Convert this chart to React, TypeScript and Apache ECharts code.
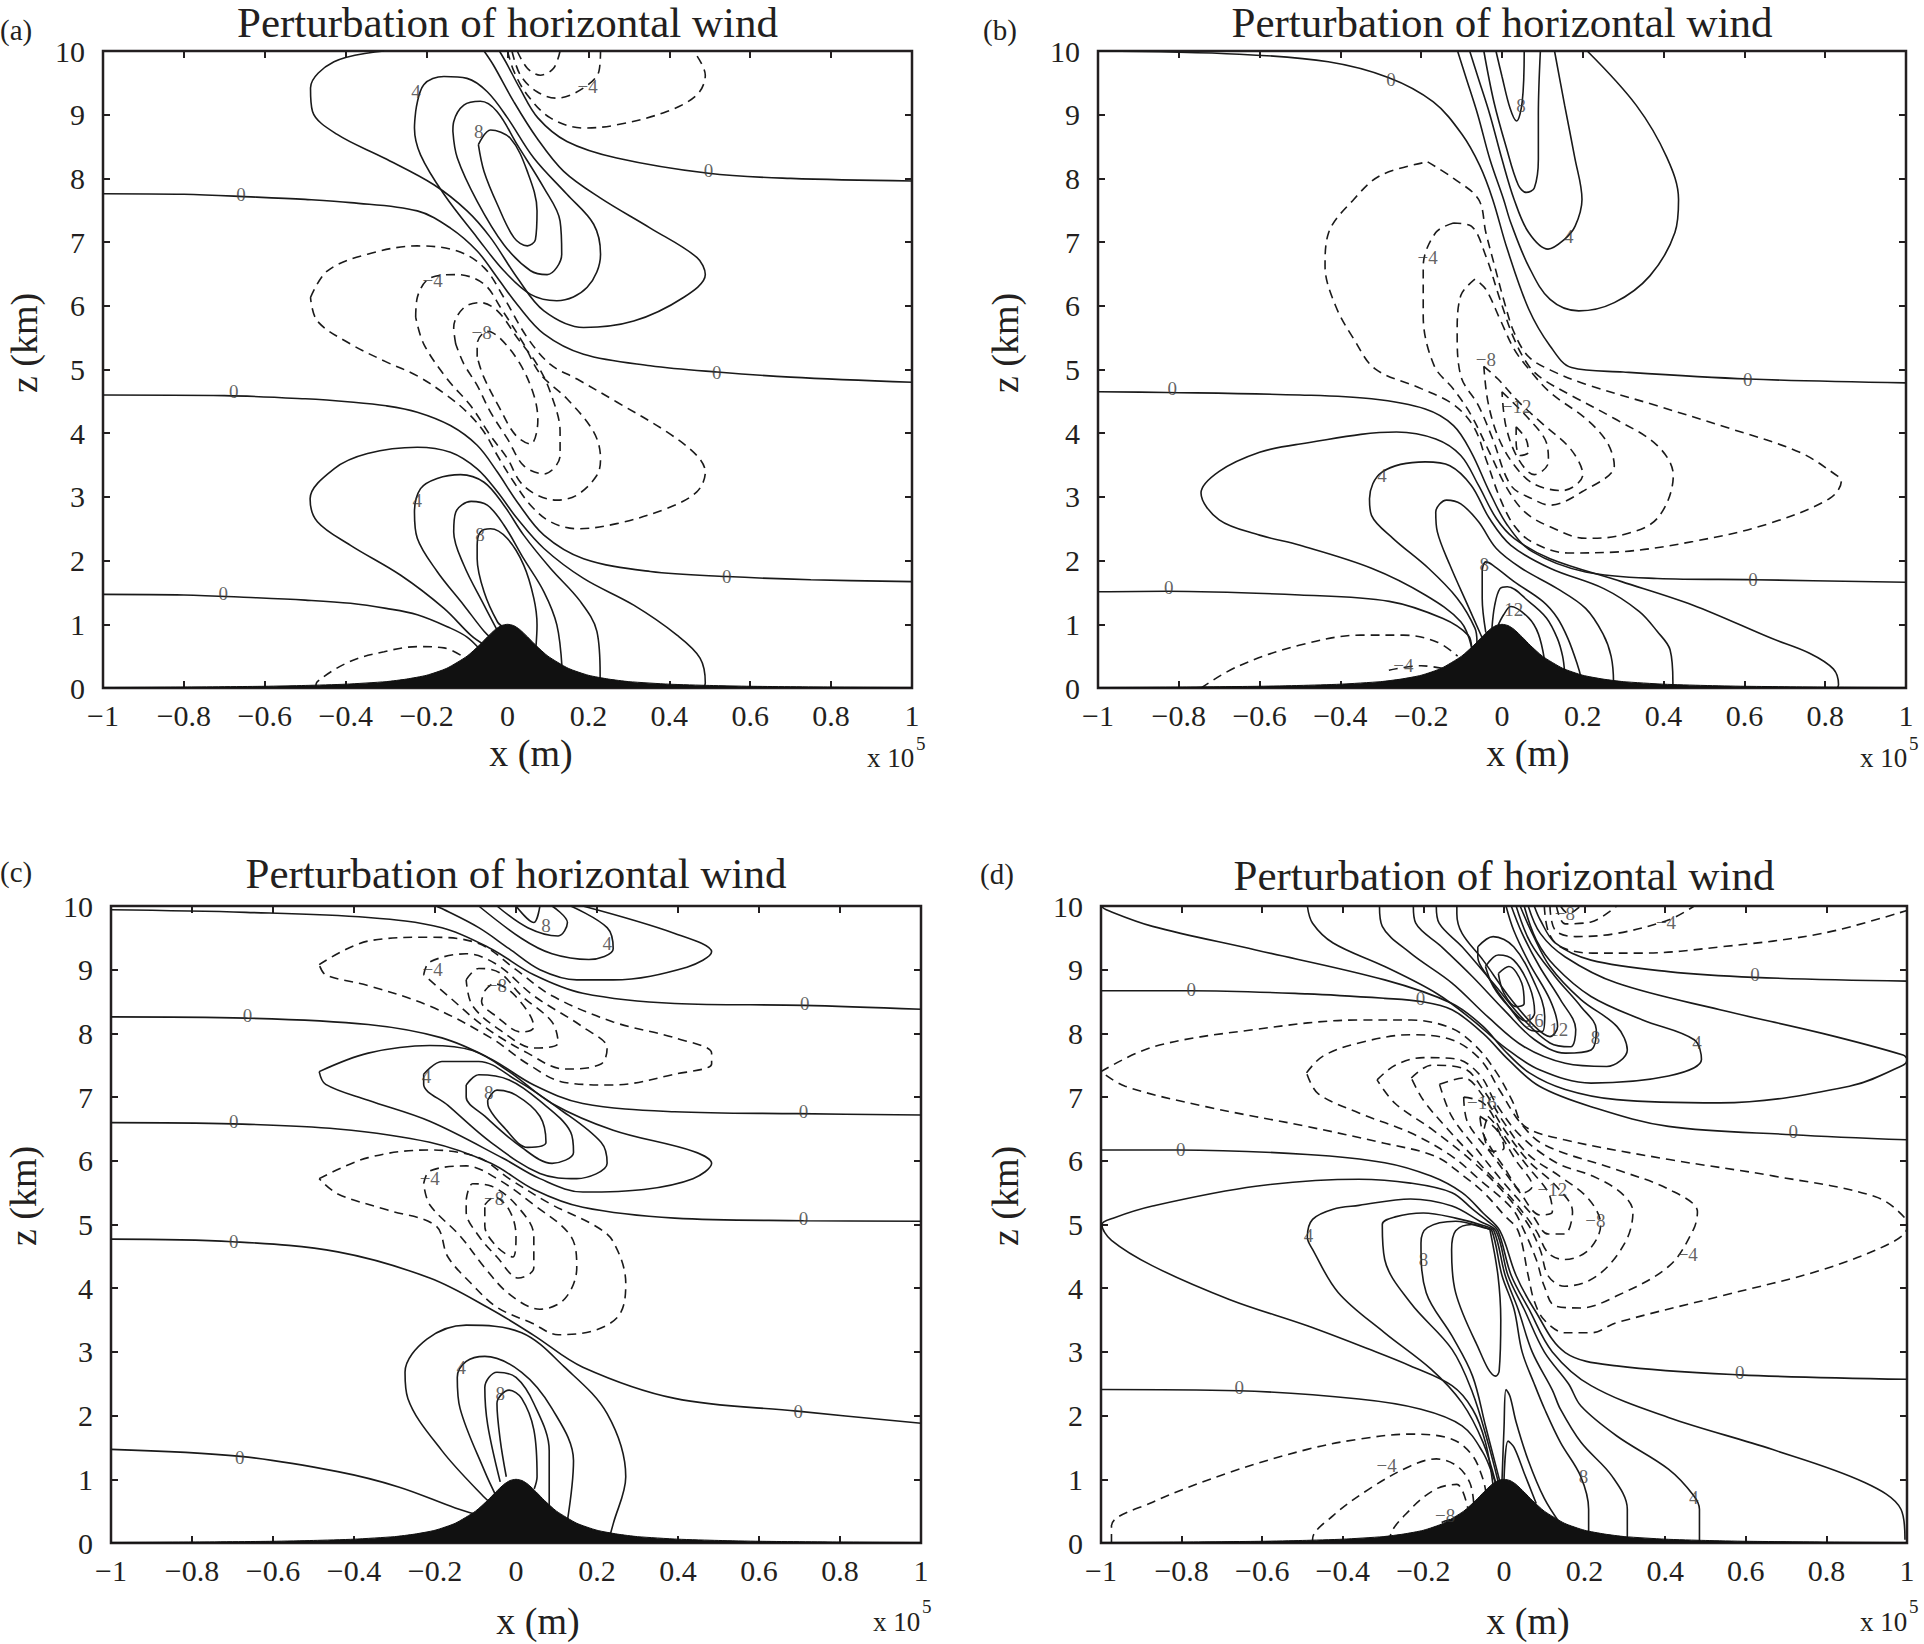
import React, { useEffect, useRef } from 'react';
import * as echarts from 'echarts';

type Line = number[][];
type Lbl = [number, number, string];

const xTickLabels = ['−1', '−0.8', '−0.6', '−0.4', '−0.2', '0', '0.2', '0.4', '0.6', '0.8', '1'];
const yTickLabels = ['0', '1', '2', '3', '4', '5', '6', '7', '8', '9', '10'];

// terrain profile (x in 1e5 m, z in km)
const mountainX = [-1, -0.8, -0.6, -0.5, -0.4, -0.3, -0.25, -0.2, -0.15, -0.1, -0.07, -0.05, -0.03, -0.015, 0, 0.015, 0.03, 0.05, 0.07, 0.1, 0.15, 0.2, 0.25, 0.3, 0.4, 0.5, 0.6, 0.8, 1];
const mountainZ = [0.01, 0.015, 0.027, 0.04, 0.06, 0.1, 0.14, 0.2, 0.31, 0.5, 0.67, 0.8, 0.92, 0.98, 1.0, 0.98, 0.92, 0.8, 0.67, 0.5, 0.31, 0.2, 0.14, 0.1, 0.06, 0.04, 0.027, 0.015, 0.01];

// ---- panel (a)
const aZero: Line[] = [
  [[-1, 1.47], [-0.8, 1.46], [-0.635, 1.42], [-0.5, 1.38], [-0.388, 1.33], [-0.3, 1.25], [-0.223, 1.15], [-0.141, 0.94], [-0.1, 0.8], [-0.07, 0.62]],
  [[-1, 4.6], [-0.7, 4.59], [-0.5, 4.54], [-0.388, 4.49], [-0.3, 4.43], [-0.223, 4.33], [-0.141, 4.12], [-0.075, 3.81], [-0.025, 3.39], [0.024, 2.92], [0.09, 2.4], [0.188, 2.03], [0.353, 1.83], [0.542, 1.75], [0.75, 1.7], [1, 1.67]],
  [[-1, 7.76], [-0.8, 7.75], [-0.635, 7.71], [-0.5, 7.67], [-0.388, 7.62], [-0.223, 7.49], [-0.141, 7.22], [-0.075, 6.86], [-0.025, 6.44], [0.024, 6.02], [0.09, 5.56], [0.188, 5.24], [0.353, 5.06], [0.518, 4.96], [0.7, 4.88], [1, 4.8]],
  [[-0.02, 10], [0.0, 9.78], [0.03, 9.42], [0.075, 8.95], [0.147, 8.58], [0.27, 8.32], [0.497, 8.08], [0.7, 8.0], [1, 7.96]],
];
const aPos: Line[] = [
  [[-0.058, 0.68], [-0.091, 0.83], [-0.157, 1.25], [-0.264, 1.77], [-0.388, 2.24], [-0.47, 2.61], [-0.488, 2.97], [-0.429, 3.44], [-0.346, 3.68], [-0.223, 3.78], [-0.141, 3.7], [-0.075, 3.44], [-0.025, 3.08], [0.024, 2.66], [0.09, 2.19], [0.188, 1.72], [0.312, 1.3], [0.419, 0.83], [0.476, 0.47], [0.489, 0.08], [0.485, 0]],
  [[-0.04, 0.78], [-0.058, 0.89], [-0.108, 1.3], [-0.174, 1.83], [-0.223, 2.35], [-0.23, 2.76], [-0.215, 3.13], [-0.174, 3.29], [-0.116, 3.35], [-0.058, 3.23], [-0.009, 2.87], [0.04, 2.4], [0.106, 1.88], [0.18, 1.36], [0.221, 0.89], [0.229, 0.21], [0.228, 0]],
  [[-0.025, 0.9], [-0.058, 1.3], [-0.108, 1.93], [-0.133, 2.45], [-0.128, 2.76], [-0.09, 2.93], [-0.05, 2.87], [-0.009, 2.56], [0.04, 2.03], [0.09, 1.51], [0.122, 0.99], [0.135, 0.3]],
  [[-0.009, 0.95], [-0.025, 1.04], [-0.058, 1.51], [-0.075, 2.03], [-0.075, 2.24], [-0.067, 2.45], [-0.042, 2.5], [-0.001, 2.35], [0.04, 1.93], [0.065, 1.41], [0.073, 0.99], [0.07, 0.62]],
  [[-0.305, 10], [-0.429, 9.83], [-0.487, 9.42], [-0.482, 9.05], [-0.421, 8.69], [-0.305, 8.32], [-0.182, 7.9], [-0.1, 7.49], [-0.042, 7.07], [0.024, 6.44], [0.09, 5.92], [0.188, 5.66], [0.312, 5.76], [0.435, 6.13], [0.489, 6.49], [0.468, 6.76], [0.353, 7.22], [0.23, 7.69], [0.139, 8.11], [0.073, 8.63], [0.015, 9.21], [-0.035, 9.78], [-0.058, 10]],
  [[-0.227, 9.05], [-0.207, 9.47], [-0.157, 9.6], [-0.1, 9.57], [-0.05, 9.36], [0.0, 8.95], [0.065, 8.32], [0.147, 7.75], [0.213, 7.28], [0.23, 6.81], [0.197, 6.29], [0.122, 6.08], [0.057, 6.18], [-0.009, 6.55], [-0.075, 7.07], [-0.157, 7.75], [-0.215, 8.37], [-0.23, 8.79], [-0.227, 9.05]],
  [[-0.135, 8.74], [-0.133, 8.89], [-0.108, 9.15], [-0.067, 9.21], [-0.026, 9.05], [0.024, 8.53], [0.09, 7.85], [0.13, 7.33], [0.134, 6.81], [0.098, 6.49], [0.057, 6.55], [-0.009, 6.96], [-0.075, 7.64], [-0.124, 8.32], [-0.135, 8.74]],
  [[-0.072, 8.53], [-0.042, 8.76], [0.007, 8.63], [0.049, 8.11], [0.073, 7.49], [0.069, 7.04], [0.049, 6.94], [0.016, 7.07], [-0.025, 7.59], [-0.058, 8.11], [-0.072, 8.53]],
];
const aNeg: Line[] = [
  [[-0.474, 0], [-0.47, 0.1], [-0.388, 0.42], [-0.305, 0.57], [-0.223, 0.65], [-0.157, 0.63], [-0.1, 0.45]],
  [[0.0, 10], [0.016, 9.68], [0.049, 9.31], [0.106, 8.95], [0.188, 8.79], [0.27, 8.84], [0.394, 9.05], [0.468, 9.31], [0.489, 9.62], [0.46, 10]],
  [[0.011, 10], [0.032, 9.62], [0.073, 9.36], [0.122, 9.26], [0.188, 9.42], [0.226, 9.68], [0.23, 10]],
  [[0.024, 10], [0.049, 9.73], [0.081, 9.62], [0.114, 9.73], [0.13, 10]],
  [[-0.487, 6.13], [-0.445, 6.55], [-0.346, 6.81], [-0.223, 6.94], [-0.124, 6.86], [-0.058, 6.6], [-0.009, 6.13], [0.049, 5.5], [0.106, 5.08], [0.172, 4.85], [0.27, 4.49], [0.394, 4.02], [0.468, 3.65], [0.489, 3.39], [0.468, 3.08], [0.394, 2.82], [0.27, 2.58], [0.172, 2.5], [0.106, 2.61], [0.057, 2.87], [0.016, 3.23], [-0.025, 3.65], [-0.058, 4.02], [-0.1, 4.33], [-0.149, 4.59], [-0.223, 4.9], [-0.3, 5.12], [-0.388, 5.4], [-0.47, 5.76], [-0.487, 6.13]],
  [[-0.227, 5.82], [-0.223, 6.13], [-0.19, 6.44], [-0.124, 6.49], [-0.058, 6.34], [-0.017, 5.97], [0.04, 5.4], [0.081, 4.93], [0.147, 4.54], [0.213, 4.02], [0.23, 3.6], [0.221, 3.34], [0.172, 3.03], [0.122, 2.95], [0.073, 3.03], [0.032, 3.23], [0.0, 3.6], [-0.042, 3.96], [-0.091, 4.43], [-0.149, 4.85], [-0.207, 5.4], [-0.227, 5.82]],
  [[-0.128, 5.4], [-0.133, 5.66], [-0.108, 5.97], [-0.067, 6.05], [-0.025, 5.92], [0.024, 5.5], [0.073, 5.08], [0.106, 4.64], [0.13, 4.02], [0.13, 3.65], [0.09, 3.36], [0.04, 3.49], [0.0, 3.91], [-0.042, 4.33], [-0.075, 4.75], [-0.108, 5.09], [-0.128, 5.4]],
  [[-0.075, 5.2], [-0.075, 5.4], [-0.05, 5.6], [-0.02, 5.5], [0.03, 5.1], [0.065, 4.6], [0.075, 4.2], [0.057, 3.83], [0.02, 3.97], [-0.02, 4.4], [-0.06, 4.9], [-0.075, 5.2]],
];
const aLabels: Lbl[] = [
  [-0.226, 9.36, '4'], [0.198, 9.44, '−4'], [-0.071, 8.74, '8'], [0.497, 8.12, '0'], [-0.659, 7.74, '0'],
  [-0.185, 6.4, '−4'], [-0.064, 5.58, '−8'], [0.517, 4.96, '0'], [-0.677, 4.65, '0'], [-0.223, 2.94, '4'],
  [-0.068, 2.41, '8'], [0.542, 1.75, '0'], [-0.703, 1.48, '0'],
];

// ---- panel (b)
const bZero: Line[] = [
  [[-1, 10], [-0.65, 9.95], [-0.43, 9.83], [-0.28, 9.58], [-0.17, 9.2], [-0.1, 8.7], [-0.055, 8.2], [-0.023, 7.67], [0.013, 6.89], [0.066, 5.95], [0.119, 5.37], [0.172, 5.03], [0.3, 4.96], [0.61, 4.85], [1, 4.79]],
  [[-1, 4.65], [-0.83, 4.64], [-0.5, 4.6], [-0.323, 4.54], [-0.19, 4.38], [-0.12, 4.12], [-0.076, 3.7], [-0.031, 3.08], [0.013, 2.56], [0.075, 2.14], [0.207, 1.82], [0.384, 1.72], [0.623, 1.7], [1, 1.66]],
  [[-1, 1.51], [-0.83, 1.52], [-0.5, 1.46], [-0.279, 1.36], [-0.146, 1.09], [-0.084, 0.83], [-0.075, 0.62]],
];
const bPos: Line[] = [
  [[-0.075, 0.64], [-0.102, 1.04], [-0.19, 1.46], [-0.323, 1.88], [-0.5, 2.24], [-0.6, 2.4], [-0.7, 2.64], [-0.745, 3.06], [-0.7, 3.4], [-0.6, 3.7], [-0.5, 3.83], [-0.261, 4.02], [-0.164, 3.91], [-0.102, 3.65], [-0.058, 3.18], [-0.014, 2.66], [0.03, 2.35], [0.119, 2.03], [0.296, 1.67], [0.473, 1.3], [0.667, 0.78], [0.76, 0.55], [0.82, 0.3], [0.833, 0.05], [0.83, 0]],
  [[-0.062, 0.72], [-0.067, 0.94], [-0.111, 1.41], [-0.182, 1.88], [-0.27, 2.35], [-0.323, 2.71], [-0.328, 2.97], [-0.297, 3.39], [-0.19, 3.55], [-0.129, 3.49], [-0.076, 3.18], [-0.031, 2.66], [0.022, 2.24], [0.119, 1.88], [0.252, 1.56], [0.34, 1.2], [0.384, 0.89], [0.416, 0.6], [0.423, 0.09], [0.423, 0]],
  [[-0.05, 0.8], [-0.085, 1.3], [-0.129, 1.93], [-0.16, 2.45], [-0.164, 2.76], [-0.137, 2.95], [-0.102, 2.89], [-0.058, 2.61], [-0.014, 2.19], [0.048, 1.88], [0.137, 1.56], [0.207, 1.25], [0.25, 0.85], [0.27, 0.5], [0.276, 0.09], [0.276, 0]],
  [[-0.04, 0.87], [-0.049, 1.41], [-0.049, 1.83], [-0.04, 1.98], [-0.023, 1.93], [0.03, 1.67], [0.101, 1.36], [0.137, 1.1], [0.163, 0.78], [0.185, 0.4], [0.196, 0.15], [0.198, 0]],
  [[-0.025, 0.93], [-0.018, 1.3], [-0.005, 1.56], [0.013, 1.59], [0.066, 1.36], [0.11, 1.1], [0.137, 0.78], [0.15, 0.5], [0.155, 0.25]],
  [[-0.01, 0.98], [0.004, 1.15], [0.022, 1.28], [0.066, 1.1], [0.09, 0.85], [0.105, 0.45]],
  [[-0.11, 10], [-0.09, 9.6], [-0.06, 9.0], [-0.03, 8.3], [0.004, 7.67], [0.022, 7.3], [0.066, 6.62], [0.119, 6.1], [0.19, 5.92], [0.278, 6.05], [0.366, 6.47], [0.428, 7.15], [0.437, 7.67], [0.408, 8.33], [0.332, 9.15], [0.211, 10]],
  [[-0.08, 10], [-0.06, 9.6], [-0.03, 9.0], [0.0, 8.3], [0.03, 7.67], [0.066, 7.15], [0.114, 6.89], [0.154, 7.04], [0.181, 7.25], [0.198, 7.67], [0.18, 8.33], [0.155, 9.15], [0.13, 10]],
  [[-0.045, 10], [-0.02, 9.2], [0.01, 8.5], [0.04, 7.9], [0.06, 7.78], [0.08, 7.85], [0.09, 8.3], [0.09, 9.0], [0.095, 10]],
  [[-0.015, 10], [0.0, 9.6], [0.02, 9.1], [0.036, 8.9], [0.05, 9.2], [0.055, 10]],
];
const bNeg: Line[] = [
  [[-0.745, 0], [-0.654, 0.34], [-0.502, 0.67], [-0.35, 0.83], [-0.244, 0.83], [-0.16, 0.72], [-0.11, 0.5]],
  [[-0.28, 0.28], [-0.2, 0.35], [-0.14, 0.3]],
  [[-0.184, 8.26], [-0.12, 8.0], [-0.058, 7.67], [-0.04, 7.15], [-0.018, 6.62], [0.004, 6.1], [0.03, 5.58], [0.066, 5.2], [0.12, 4.99], [0.207, 4.77], [0.384, 4.43], [0.561, 4.08], [0.737, 3.7], [0.83, 3.33], [0.84, 3.25], [0.81, 2.97], [0.65, 2.56], [0.473, 2.3], [0.296, 2.14], [0.163, 2.12], [0.075, 2.29], [0.03, 2.55], [-0.005, 2.98], [-0.04, 3.6], [-0.07, 4.1], [-0.12, 4.45], [-0.2, 4.7], [-0.314, 5.01], [-0.367, 5.48], [-0.412, 6.0], [-0.438, 6.62], [-0.429, 7.15], [-0.367, 7.67], [-0.3, 8.05], [-0.184, 8.26]],
  [[-0.12, 7.3], [-0.164, 7.15], [-0.195, 6.62], [-0.195, 5.84], [-0.168, 5.06], [-0.12, 4.69], [-0.076, 4.28], [-0.031, 3.7], [0.013, 3.13], [0.057, 2.76], [0.119, 2.53], [0.207, 2.35], [0.296, 2.4], [0.384, 2.66], [0.424, 3.34], [0.384, 3.81], [0.278, 4.23], [0.172, 4.59], [0.101, 4.85], [0.066, 5.06], [0.03, 5.48], [-0.005, 6.1], [-0.04, 6.78], [-0.076, 7.25], [-0.12, 7.3]],
  [[-0.067, 6.42], [-0.102, 6.16], [-0.111, 5.58], [-0.102, 4.9], [-0.058, 4.43], [-0.023, 3.91], [0.022, 3.18], [0.075, 2.97], [0.119, 2.87], [0.198, 3.08], [0.278, 3.49], [0.26, 3.86], [0.207, 4.23], [0.119, 4.64], [0.066, 5.01], [0.03, 5.32], [-0.005, 5.79], [-0.04, 6.26], [-0.067, 6.42]],
  [[-0.045, 5.05], [-0.01, 4.85], [0.04, 4.5], [0.1, 4.15], [0.17, 3.75], [0.2, 3.35], [0.15, 3.1], [0.08, 3.2], [0.03, 3.5], [-0.01, 3.95], [-0.035, 4.5], [-0.045, 5.05]],
  [[0.0, 4.65], [0.07, 4.2], [0.11, 3.85], [0.115, 3.55], [0.08, 3.35], [0.04, 3.6], [0.01, 4.1], [0.0, 4.65]],
  [[0.035, 4.1], [0.06, 3.9], [0.065, 3.7], [0.045, 3.65], [0.035, 3.85], [0.035, 4.1]],
];
const bLabels: Lbl[] = [
  [-0.275, 9.56, '0'], [0.047, 9.15, '8'], [0.165, 7.09, '4'], [-0.184, 6.76, '−4'], [-0.04, 5.16, '−8'],
  [0.608, 4.85, '0'], [-0.816, 4.7, '0'], [0.036, 4.42, '−12'], [-0.297, 3.34, '4'], [-0.044, 1.94, '8'],
  [0.621, 1.7, '0'], [-0.825, 1.57, '0'], [0.029, 1.24, '12'], [-0.244, 0.35, '−4'],
];

// ---- panel (c)
const cZero: Line[] = [
  [[-1, 1.47], [-0.68, 1.36], [-0.44, 1.12], [-0.29, 0.88], [-0.15, 0.55], [-0.1, 0.45]],
  [[-1, 4.77], [-0.7, 4.73], [-0.44, 4.57], [-0.213, 4.16], [-0.062, 3.67], [0.044, 3.26], [0.165, 2.76], [0.392, 2.27], [0.694, 2.07], [1, 1.88]],
  [[-1, 6.6], [-0.7, 6.58], [-0.44, 6.5], [-0.213, 6.29], [-0.062, 5.96], [0.044, 5.55], [0.165, 5.27], [0.392, 5.1], [0.71, 5.06], [1, 5.05]],
  [[-1, 8.26], [-0.667, 8.24], [-0.365, 8.14], [-0.183, 7.93], [-0.062, 7.6], [0.044, 7.19], [0.165, 6.9], [0.392, 6.77], [0.694, 6.74], [1, 6.72]],
  [[-1, 9.94], [-0.667, 9.9], [-0.365, 9.82], [-0.183, 9.66], [-0.062, 9.33], [0.044, 8.92], [0.165, 8.63], [0.392, 8.47], [0.71, 8.44], [1, 8.38]],
];
const cPos: Line[] = [
  [[-0.047, 0.55], [-0.077, 0.71], [-0.183, 1.45], [-0.267, 2.27], [-0.274, 2.68], [-0.22, 3.2], [-0.123, 3.42], [0.014, 3.3], [0.12, 2.76], [0.225, 2.03], [0.271, 1.04], [0.24, 0.3], [0.233, 0.14]],
  [[-0.047, 0.71], [-0.077, 1.12], [-0.138, 2.11], [-0.145, 2.6], [-0.123, 2.85], [-0.077, 2.93], [0.014, 2.68], [0.089, 2.11], [0.142, 1.29], [0.127, 0.35]],
  [[-0.039, 0.96], [-0.07, 1.86], [-0.077, 2.44], [-0.047, 2.68], [0.0, 2.6], [0.044, 2.19], [0.082, 1.45], [0.082, 0.55]],
  [[-0.024, 1.04], [-0.039, 1.62], [-0.047, 2.19], [-0.017, 2.4], [0.014, 2.27], [0.044, 1.78], [0.052, 1.04], [0.045, 0.85]],
  [[-0.486, 7.4], [-0.365, 7.69], [-0.213, 7.81], [-0.107, 7.73], [-0.017, 7.4], [0.089, 6.9], [0.24, 6.48], [0.437, 6.15], [0.483, 5.96], [0.437, 5.72], [0.316, 5.55], [0.165, 5.51], [0.059, 5.72], [-0.032, 6.04], [-0.213, 6.62], [-0.365, 6.95], [-0.47, 7.2], [-0.486, 7.4]],
  [[-0.228, 7.36], [-0.183, 7.56], [-0.092, 7.56], [0.0, 7.27], [0.106, 6.82], [0.21, 6.29], [0.225, 5.96], [0.15, 5.72], [0.059, 5.8], [-0.062, 6.29], [-0.168, 6.87], [-0.228, 7.2], [-0.228, 7.36]],
  [[-0.123, 7.19], [-0.092, 7.35], [-0.017, 7.27], [0.059, 6.94], [0.135, 6.45], [0.142, 6.13], [0.089, 5.96], [0.014, 6.21], [-0.077, 6.7], [-0.123, 7.0], [-0.123, 7.19]],
  [[-0.07, 6.95], [-0.047, 7.11], [0.0, 7.03], [0.059, 6.7], [0.074, 6.29], [0.029, 6.21], [-0.032, 6.54], [-0.067, 6.83], [-0.07, 6.95]],
  [[-0.198, 10], [-0.183, 9.96], [-0.092, 9.66], [-0.017, 9.33], [0.059, 9.0], [0.15, 8.84], [0.24, 8.84], [0.422, 9.04], [0.483, 9.28], [0.392, 9.57], [0.165, 10]],
  [[-0.092, 10], [0.014, 9.49], [0.089, 9.25], [0.18, 9.16], [0.24, 9.33], [0.225, 9.66], [0.135, 10]],
  [[-0.047, 10], [0.029, 9.66], [0.104, 9.53], [0.127, 9.74], [0.089, 10]],
  [[0.0, 10], [0.044, 9.74], [0.059, 10]],
];
const cNeg: Line[] = [
  [[-0.486, 9.08], [-0.365, 9.45], [-0.213, 9.51], [-0.092, 9.41], [0.0, 9.0], [0.089, 8.59], [0.24, 8.18], [0.392, 7.93], [0.483, 7.69], [0.483, 7.52], [0.392, 7.36], [0.24, 7.19], [0.12, 7.23], [0.029, 7.52], [-0.062, 7.93], [-0.213, 8.43], [-0.365, 8.75], [-0.47, 8.92], [-0.486, 9.08]],
  [[-0.228, 8.92], [-0.213, 9.12], [-0.123, 9.25], [-0.047, 9.08], [0.044, 8.59], [0.165, 8.1], [0.225, 7.77], [0.21, 7.52], [0.12, 7.44], [0.029, 7.69], [-0.077, 8.1], [-0.168, 8.59], [-0.228, 8.92]],
  [[-0.123, 8.84], [-0.092, 9.02], [-0.04, 8.95], [0.014, 8.59], [0.089, 8.18], [0.104, 7.85], [0.044, 7.77], [-0.032, 8.02], [-0.107, 8.43], [-0.123, 8.84]],
  [[-0.077, 8.67], [-0.055, 8.78], [-0.002, 8.59], [0.044, 8.1], [0.014, 8.02], [-0.047, 8.26], [-0.085, 8.5], [-0.077, 8.67]],
  [[-0.486, 5.72], [-0.365, 6.05], [-0.213, 6.17], [-0.092, 6.05], [-0.017, 5.72], [0.089, 5.31], [0.195, 4.98], [0.24, 4.73], [0.271, 4.08], [0.256, 3.59], [0.195, 3.34], [0.104, 3.27], [0.04, 3.45], [-0.047, 3.7], [-0.107, 4.05], [-0.168, 4.49], [-0.198, 4.98], [-0.319, 5.23], [-0.44, 5.48], [-0.486, 5.72]],
  [[-0.228, 5.64], [-0.213, 5.84], [-0.123, 5.92], [-0.047, 5.72], [0.044, 5.31], [0.135, 4.82], [0.15, 4.32], [0.12, 3.83], [0.059, 3.67], [-0.017, 3.91], [-0.077, 4.32], [-0.138, 4.82], [-0.213, 5.31], [-0.228, 5.64]],
  [[-0.123, 5.39], [-0.107, 5.64], [-0.06, 5.6], [0.0, 5.31], [0.044, 4.82], [0.044, 4.32], [0.006, 4.16], [-0.047, 4.49], [-0.092, 4.82], [-0.123, 5.2], [-0.123, 5.39]],
  [[-0.077, 5.31], [-0.054, 5.43], [-0.017, 5.23], [0.0, 4.82], [-0.008, 4.49], [-0.047, 4.65], [-0.077, 4.98], [-0.077, 5.31]],
];
const cLabels: Lbl[] = [
  [0.074, 9.7, '8'], [0.225, 9.41, '4'], [-0.206, 9.0, '−4'], [-0.047, 8.75, '−8'], [0.713, 8.47, '0'],
  [-0.663, 8.28, '0'], [-0.221, 7.32, '4'], [-0.067, 7.07, '8'], [0.71, 6.78, '0'], [-0.697, 6.62, '0'],
  [-0.213, 5.72, '−4'], [-0.054, 5.41, '−8'], [0.71, 5.09, '0'], [-0.697, 4.73, '0'], [-0.135, 2.76, '4'],
  [-0.039, 2.34, '8'], [0.697, 2.07, '0'], [-0.682, 1.35, '0'],
];

// ---- panel (d)
const dZero: Line[] = [
  [[0.075, 10], [0.09, 9.78], [0.127, 9.42], [0.216, 9.15], [0.408, 8.97], [0.62, 8.88], [1, 8.82]],
  [[-1, 8.67], [-0.776, 8.67], [-0.488, 8.62], [-0.296, 8.55], [-0.206, 8.5], [-0.129, 8.37], [-0.052, 8.0], [0.012, 7.58], [0.088, 7.17], [0.216, 6.85], [0.408, 6.54], [0.716, 6.41], [1, 6.33]],
  [[-1, 6.17], [-0.808, 6.17], [-0.488, 6.1], [-0.296, 5.97], [-0.181, 5.76], [-0.104, 5.5], [-0.052, 5.18], [-0.01, 4.9], [0.03, 4.2], [0.075, 3.67], [0.152, 2.99], [0.28, 2.78], [0.584, 2.64], [1, 2.57]],
  [[-1, 2.41], [-0.66, 2.39], [-0.36, 2.26], [-0.206, 2.1], [-0.104, 1.84], [-0.052, 1.42], [-0.027, 1.05], [-0.02, 0.92]],
];
const dPos: Line[] = [
  [[-1, 10], [-0.987, 9.94], [-0.872, 9.68], [-0.616, 9.31], [-0.296, 8.84], [-0.129, 8.47], [-0.052, 8.11], [0.0, 7.74], [0.063, 7.38], [0.152, 7.12], [0.28, 6.96], [0.536, 6.91], [0.857, 7.17], [0.99, 7.5], [1.0, 7.59], [0.99, 7.66], [0.79, 8.0], [0.536, 8.37], [0.28, 8.79], [0.152, 9.2], [0.09, 9.57], [0.06, 10]],
  [[-0.488, 10], [-0.475, 9.73], [-0.424, 9.42], [-0.296, 9.05], [-0.168, 8.63], [-0.078, 8.21], [0.0, 7.79], [0.088, 7.43], [0.216, 7.22], [0.408, 7.33], [0.49, 7.59], [0.472, 7.9], [0.344, 8.21], [0.216, 8.58], [0.127, 9.05], [0.08, 9.47], [0.05, 10]],
  [[-0.309, 10], [-0.302, 9.68], [-0.232, 9.26], [-0.129, 8.79], [-0.04, 8.26], [0.05, 7.79], [0.152, 7.53], [0.255, 7.48], [0.306, 7.74], [0.28, 8.11], [0.191, 8.53], [0.114, 9.05], [0.07, 9.57], [0.04, 10]],
  [[-0.225, 10], [-0.219, 9.73], [-0.155, 9.36], [-0.078, 8.89], [0.0, 8.37], [0.076, 7.9], [0.152, 7.69], [0.216, 7.74], [0.229, 8.06], [0.191, 8.42], [0.127, 8.89], [0.066, 9.42], [0.03, 10]],
  [[-0.168, 10], [-0.161, 9.73], [-0.104, 9.36], [-0.027, 8.79], [0.05, 8.21], [0.114, 7.85], [0.165, 7.79], [0.178, 8.06], [0.14, 8.53], [0.088, 9.05], [0.045, 9.57], [0.018, 10]],
  [[-0.117, 10], [-0.117, 9.88], [-0.104, 9.57], [-0.052, 9.15], [0.012, 8.58], [0.076, 8.11], [0.114, 7.95], [0.133, 8.11], [0.114, 8.53], [0.063, 9.1], [0.024, 9.62], [0.005, 10]],
  [[-0.065, 9.36], [-0.027, 9.52], [0.024, 9.36], [0.076, 8.79], [0.101, 8.27], [0.095, 8.03], [0.063, 8.06], [0.012, 8.42], [-0.04, 8.89], [-0.065, 9.2], [-0.065, 9.36]],
  [[-0.046, 9.05], [-0.014, 9.23], [0.024, 9.15], [0.063, 8.74], [0.076, 8.32], [0.056, 8.19], [0.012, 8.42], [-0.027, 8.74], [-0.046, 9.05]],
  [[-0.014, 8.94], [0.012, 9.05], [0.044, 8.79], [0.05, 8.47], [0.031, 8.42], [0.0, 8.63], [-0.014, 8.94]],
  [[-0.027, 0.9], [-0.046, 1.58], [-0.078, 2.1], [-0.129, 2.47], [-0.232, 2.78], [-0.334, 3.04], [-0.488, 3.41], [-0.68, 3.82], [-0.872, 4.35], [-0.974, 4.75], [-0.998, 5.0], [-0.97, 5.1], [-0.872, 5.29], [-0.616, 5.6], [-0.36, 5.71], [-0.232, 5.65], [-0.129, 5.5], [-0.078, 5.24], [-0.04, 5.05], [-0.015, 4.9], [0.018, 4.2], [0.062, 3.67], [0.12, 3.0], [0.216, 2.47], [0.408, 1.97], [0.665, 1.47], [0.895, 0.95], [0.985, 0.53], [0.995, 0.05]],
  [[-0.02, 0.93], [-0.052, 1.58], [-0.104, 2.2], [-0.181, 2.73], [-0.296, 3.3], [-0.411, 3.93], [-0.475, 4.61], [-0.488, 4.8], [-0.475, 5.08], [-0.424, 5.24], [-0.36, 5.3], [-0.232, 5.4], [-0.129, 5.29], [-0.06, 5.05], [-0.02, 4.9], [0.01, 4.2], [0.05, 3.67], [0.1, 3.0], [0.16, 2.5], [0.191, 2.15], [0.28, 1.68], [0.408, 1.16], [0.47, 0.75], [0.485, 0.53], [0.485, 0.03]],
  [[-0.014, 0.95], [-0.04, 1.58], [-0.078, 2.36], [-0.129, 3.04], [-0.232, 3.77], [-0.296, 4.45], [-0.302, 5.0], [-0.27, 5.12], [-0.2, 5.18], [-0.12, 5.1], [-0.05, 4.98], [-0.025, 4.9], [0.003, 4.2], [0.035, 3.67], [0.07, 3.0], [0.12, 2.4], [0.14, 2.1], [0.191, 1.58], [0.268, 1.05], [0.306, 0.53], [0.306, 0.06]],
  [[-0.01, 0.96], [-0.046, 1.84], [-0.078, 2.62], [-0.129, 3.25], [-0.193, 3.93], [-0.206, 4.71], [-0.19, 4.95], [-0.12, 5.05], [-0.05, 4.95], [-0.03, 4.9], [-0.005, 4.2], [0.025, 3.67], [0.045, 3.0], [0.075, 2.5], [0.101, 2.1], [0.14, 1.58], [0.19, 1.05], [0.21, 0.53], [0.21, 0.06]],
  [[-0.035, 4.92], [-0.08, 5.0], [-0.12, 4.9], [-0.13, 4.6], [-0.12, 3.93], [-0.07, 3.15], [-0.02, 2.62], [-0.012, 2.7], [-0.008, 3.5], [-0.015, 4.2], [-0.035, 4.92]],
  [[-0.005, 0.97], [0.0, 1.8], [0.005, 2.41], [0.015, 2.3], [0.03, 1.9], [0.06, 1.3], [0.1, 0.7], [0.14, 0.3]],
  [[0.0, 0.98], [0.01, 1.6], [0.025, 1.5], [0.05, 1.1], [0.08, 0.62]],
];
const dNeg: Line[] = [
  [[0.1, 10], [0.11, 9.6], [0.14, 9.36], [0.22, 9.26], [0.34, 9.26], [0.54, 9.36], [0.79, 9.57], [1.0, 9.93]],
  [[0.114, 10], [0.127, 9.62], [0.178, 9.52], [0.28, 9.57], [0.408, 9.78], [0.472, 10]],
  [[0.13, 10], [0.152, 9.72], [0.216, 9.75], [0.28, 10]],
  [[0.14, 10], [0.16, 9.88], [0.19, 10]],
  [[-1, 7.4], [-0.87, 7.79], [-0.62, 8.06], [-0.36, 8.21], [-0.23, 8.21], [-0.13, 8.08], [-0.07, 7.8], [-0.02, 7.4], [0.02, 6.95], [0.05, 6.55], [0.15, 6.33], [0.41, 6.02], [0.67, 5.76], [0.92, 5.44], [0.995, 5.1], [1.0, 4.95], [0.96, 4.71], [0.79, 4.29], [0.54, 3.88], [0.28, 3.46], [0.216, 3.3], [0.152, 3.3], [0.1, 3.5], [0.075, 3.8], [0.06, 4.2], [0.035, 4.9], [0.0, 5.15], [-0.05, 5.5], [-0.1, 5.76], [-0.17, 6.07], [-0.3, 6.28], [-0.49, 6.54], [-0.74, 6.85], [-0.94, 7.17], [-1, 7.4]],
  [[-0.49, 7.38], [-0.45, 7.64], [-0.36, 7.85], [-0.23, 7.98], [-0.13, 7.9], [-0.06, 7.6], [-0.01, 7.1], [0.04, 6.6], [0.1, 6.25], [0.28, 5.86], [0.41, 5.55], [0.48, 5.2], [0.47, 4.92], [0.41, 4.35], [0.28, 3.88], [0.19, 3.69], [0.127, 3.72], [0.1, 4.03], [0.08, 4.45], [0.05, 4.9], [0.02, 5.25], [-0.06, 5.7], [-0.129, 6.07], [-0.232, 6.44], [-0.36, 6.75], [-0.462, 7.06], [-0.49, 7.38]],
  [[-0.315, 7.27], [-0.27, 7.5], [-0.2, 7.62], [-0.12, 7.6], [-0.06, 7.35], [-0.02, 6.9], [0.04, 6.4], [0.13, 5.97], [0.22, 5.76], [0.29, 5.5], [0.32, 5.2], [0.3, 4.71], [0.23, 4.19], [0.15, 4.03], [0.11, 4.19], [0.09, 4.6], [0.06, 5.0], [0.0, 5.5], [-0.08, 6.0], [-0.18, 6.5], [-0.27, 6.9], [-0.315, 7.27]],
  [[-0.23, 7.3], [-0.18, 7.5], [-0.1, 7.45], [-0.05, 7.1], [0.0, 6.6], [0.06, 6.1], [0.14, 5.75], [0.21, 5.4], [0.24, 5.0], [0.21, 4.6], [0.15, 4.45], [0.11, 4.55], [0.08, 4.9], [0.02, 5.4], [-0.06, 5.95], [-0.14, 6.5], [-0.2, 6.95], [-0.23, 7.3]],
  [[-0.16, 7.2], [-0.1, 7.3], [-0.05, 7.0], [0.0, 6.5], [0.06, 6.0], [0.13, 5.6], [0.17, 5.2], [0.15, 4.85], [0.11, 4.85], [0.07, 5.15], [0.0, 5.65], [-0.07, 6.2], [-0.13, 6.7], [-0.16, 7.2]],
  [[-0.1, 7.0], [-0.05, 6.9], [0.0, 6.4], [0.06, 5.9], [0.11, 5.5], [0.12, 5.2], [0.09, 5.15], [0.04, 5.5], [-0.03, 6.1], [-0.09, 6.6], [-0.1, 7.0]],
  [[-0.06, 6.7], [-0.02, 6.5], [0.03, 6.0], [0.07, 5.6], [0.05, 5.5], [0.0, 5.9], [-0.05, 6.4], [-0.06, 6.7]],
  [[-0.04, 6.7], [-0.02, 6.55], [0.0, 6.2], [-0.03, 6.15], [-0.05, 6.45], [-0.04, 6.7]],
  [[-0.974, 0], [-0.974, 0.27], [-0.872, 0.64], [-0.68, 1.11], [-0.488, 1.47], [-0.36, 1.63], [-0.232, 1.71], [-0.129, 1.63], [-0.078, 1.37], [-0.052, 1.0], [-0.045, 0.8]],
  [[-0.475, 0], [-0.475, 0.06], [-0.424, 0.43], [-0.334, 0.85], [-0.232, 1.21], [-0.168, 1.32], [-0.117, 1.21], [-0.085, 0.95], [-0.075, 0.62]],
  [[-0.283, 0], [-0.283, 0.06], [-0.232, 0.53], [-0.168, 0.85], [-0.117, 0.92], [-0.09, 0.55]],
  [[-0.18, 0.15], [-0.155, 0.32], [-0.125, 0.38]],
];
const dLabels: Lbl[] = [
  [0.151, 9.88, '−8'], [0.402, 9.74, '−4'], [0.623, 8.93, '0'], [-0.776, 8.69, '0'], [-0.207, 8.55, '0'],
  [0.075, 8.2, '16'], [0.136, 8.06, '12'], [0.227, 7.93, '8'], [0.479, 7.85, '4'], [-0.055, 6.91, '−16'],
  [0.718, 6.46, '0'], [-0.802, 6.17, '0'], [0.12, 5.55, '−12'], [0.227, 5.06, '−8'], [-0.485, 4.82, '4'],
  [0.456, 4.53, '−4'], [-0.2, 4.45, '8'], [0.585, 2.68, '0'], [-0.657, 2.44, '0'], [-0.291, 1.21, '−4'],
  [0.197, 1.04, '8'], [0.471, 0.71, '4'], [-0.146, 0.43, '−8'],
];

const TITLE = 'Perturbation of horizontal wind';
const FONT = "'Liberation Serif', 'Times New Roman', serif";
const INK = '#231f20';

const panels = [
  { tag: '(a)', zero: aZero, pos: aPos, neg: aNeg, labels: aLabels },
  { tag: '(b)', zero: bZero, pos: bPos, neg: bNeg, labels: bLabels },
  { tag: '(c)', zero: cZero, pos: cPos, neg: cNeg, labels: cLabels },
  { tag: '(d)', zero: dZero, pos: dPos, neg: dNeg, labels: dLabels },
];

// pixel layout of each panel on the page
const layout = [
  { left: 103, top: 51, width: 809, height: 637, tagX: 0, tagY: 30, titleY: 22, xName: [531, 753], zName: [24, 343], e10: [867, 758], e5: [916, 743] },
  { left: 1098, top: 51, width: 808, height: 637, tagX: 983, tagY: 30, titleY: 22, xName: [1528, 753], zName: [1005, 343], e10: [1860, 758], e5: [1909, 743] },
  { left: 111, top: 906, width: 810, height: 637, tagX: 0, tagY: 872, titleY: 873, xName: [538, 1621], zName: [23, 1196], e10: [873, 1622], e5: [922, 1606] },
  { left: 1101, top: 906, width: 806, height: 637, tagX: 980, tagY: 874, titleY: 875, xName: [1528, 1621], zName: [1005, 1196], e10: [1860, 1622], e5: [1909, 1606] },
];

function txt(x: number, y: number, text: string, size: number, align = 'center', extra: any = {}) {
  return {
    type: 'text', x, y, silent: true, ...extra,
    style: {
      text, fill: INK, font: `normal ${size}px ${FONT}`,
      fontSize: size, fontFamily: FONT,
      textAlign: align, align, textVerticalAlign: 'middle', verticalAlign: 'middle',
    },
  };
}

export default function App() {
  const ref = useRef<HTMLDivElement | null>(null);

  useEffect(() => {
    if (!ref.current) return;
    const chart = echarts.init(ref.current, undefined, { renderer: 'svg' });

    const grid: any[] = [];
    const xAxis: any[] = [];
    const yAxis: any[] = [];
    const series: any[] = [];
    const graphic: any[] = [];

    const tick = { inside: true, length: 7, lineStyle: { color: INK, width: 2 } };
    const noLine = { show: false, onZero: false };

    panels.forEach((p, i) => {
      const L = layout[i];
      grid.push({ left: L.left, top: L.top, width: L.width, height: L.height, show: true, borderColor: INK, borderWidth: 2.5 });
      const xBase = { type: 'value', gridIndex: i, min: -1, max: 1, interval: 0.2, splitLine: { show: false }, axisLine: noLine, axisTick: tick };
      const yBase = { type: 'value', gridIndex: i, min: 0, max: 10, interval: 1, splitLine: { show: false }, axisLine: noLine, axisTick: tick };
      xAxis.push({
        ...xBase, position: 'bottom',
        axisLabel: { fontSize: 30, fontFamily: FONT, color: INK, margin: 12, formatter: (v: number) => xTickLabels[Math.round((v + 1) / 0.2)] ?? '' },
      });
      xAxis.push({ ...xBase, position: 'top', axisLabel: { show: false } });
      yAxis.push({
        ...yBase, position: 'left',
        axisLabel: { fontSize: 30, fontFamily: FONT, color: INK, margin: 18, formatter: (v: number) => yTickLabels[Math.round(v)] ?? '' },
      });
      yAxis.push({ ...yBase, position: 'right', axisLabel: { show: false } });

      const add = (lines: Line[], dashed: boolean) => {
        lines.forEach((pts) => {
          series.push({
            type: 'line', xAxisIndex: 2 * i, yAxisIndex: 2 * i, data: pts, smooth: 0.35, symbol: 'none', silent: true, z: 2,
            lineStyle: { color: '#1a1a1a', width: 1.6, type: dashed ? [9, 6] : 'solid' },
          });
        });
      };
      add(p.zero, false);
      add(p.pos, false);
      add(p.neg, true);

      series.push({
        type: 'line', xAxisIndex: 2 * i, yAxisIndex: 2 * i, symbol: 'none', silent: true, z: 3,
        data: mountainX.map((x, k) => [x, mountainZ[k]]), smooth: 0.2,
        lineStyle: { color: '#111', width: 1 }, areaStyle: { color: '#111', opacity: 1 },
      });

      series.push({
        type: 'scatter', xAxisIndex: 2 * i, yAxisIndex: 2 * i, silent: true, z: 4, symbolSize: 1,
        itemStyle: { color: 'rgba(0,0,0,0)' },
        data: p.labels.map(([x, z, t]) => ({ value: [x, z], name: t })),
        label: { show: true, position: 'inside', formatter: '{b}', fontSize: 19, fontFamily: FONT, color: '#3a3a3a' },
      });

      graphic.push(txt(L.left + L.width / 2, L.titleY, TITLE, 43));
      graphic.push(txt(L.tagX, L.tagY, p.tag, 29, 'left'));
      graphic.push(txt(L.xName[0], L.xName[1], 'x (m)', 38));
      graphic.push(txt(L.zName[0], L.zName[1], 'z (km)', 38, 'center', { rotation: Math.PI / 2 }));
      graphic.push(txt(L.e10[0], L.e10[1], 'x 10', 27, 'left'));
      graphic.push(txt(L.e5[0], L.e5[1], '5', 19, 'left'));
    });

    chart.setOption({
      animation: false,
      backgroundColor: '#ffffff',
      grid, xAxis, yAxis, series, graphic,
    });

    return () => { chart.dispose(); };
  }, []);

  return <div ref={ref} style={{ position: 'absolute', left: 0, top: 0, width: 1924, height: 1644 }} />;
}
